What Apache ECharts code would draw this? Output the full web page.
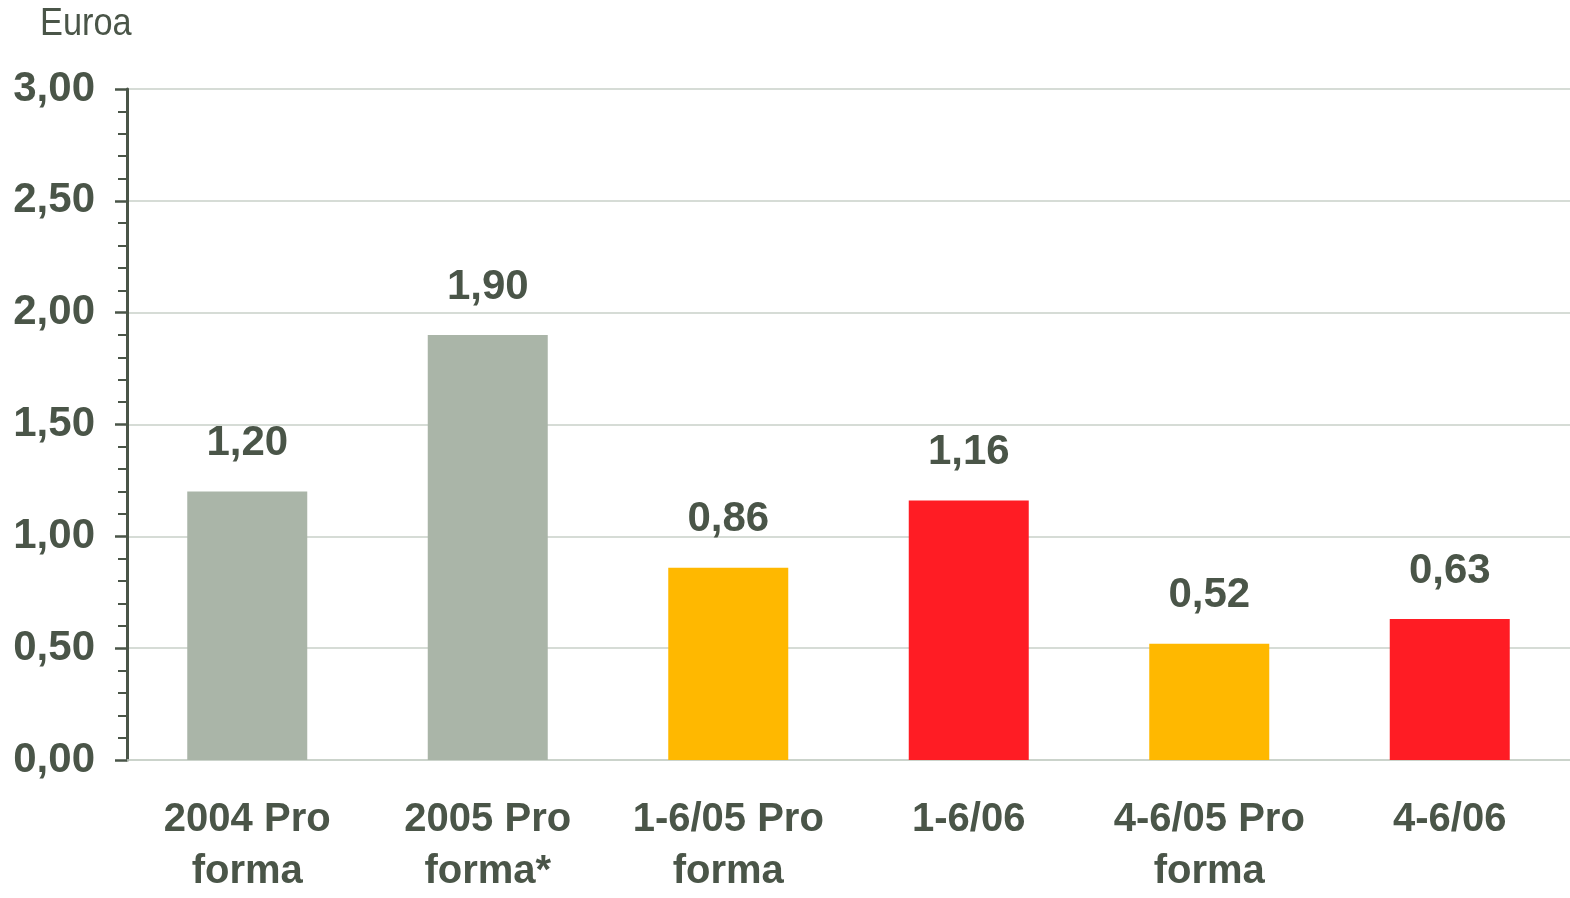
<!DOCTYPE html>
<html><head><meta charset="utf-8">
<script src="https://cdn.jsdelivr.net/npm/echarts@6/dist/echarts.min.js"></script>
<style>html,body{margin:0;padding:0;background:#fff;overflow:hidden}#c{width:1570px;height:898px}</style>
</head><body><div id="c"></div>
<script>
const categories = ['2004 Pro\nforma', '2005 Pro\nforma*', '1-6/05 Pro\nforma', '1-6/06', '4-6/05 Pro\nforma', '4-6/06'];
const values = [1.20, 1.90, 0.86, 1.16, 0.52, 0.63];
const barColors = ['#aab5a8', '#aab5a8', '#ffb800', '#ff1c24', '#ffb800', '#ff1c24'];
const yTicks = { min: 0, max: 3, interval: 0.5 };
const unitLabel = 'Euroa';

const dark = '#4a5548';
const fmt = v => v.toFixed(2).replace('.', ',');
const chart = echarts.init(document.getElementById('c'));
chart.setOption({
  animation: false,
  graphic: [{
    type: 'text', left: 40, top: 5, scaleX: 0.88,
    style: { text: unitLabel, fontFamily: 'Liberation Sans, Arial', fontWeight: 'normal', fontSize: 39, fill: dark }
  }],
  grid: { left: 127, right: -4, top: 89, height: 680 },
  xAxis: {
    type: 'category', data: categories,
    axisLine: { show: true, lineStyle: { color: '#c8d0c8', width: 1.5 } },
    axisTick: { show: false },
    axisLabel: { margin: 34, fontFamily: 'Liberation Sans, Arial', fontWeight: 'bold', fontSize: 40, color: dark, lineHeight: 52, interval: 0 }
  },
  yAxis: {
    type: 'value', min: yTicks.min, max: yTicks.max, interval: yTicks.interval,
    axisLine: { show: true, lineStyle: { color: dark, width: 3 } },
    axisTick: { show: true, length: 12, lineStyle: { color: dark, width: 2.5 } },
    minorTick: { show: true, splitNumber: 5, length: 9, lineStyle: { color: dark, width: 2 } },
    splitLine: { show: true, lineStyle: { color: '#c8d0c8', width: 1.5 } },
    axisLabel: { margin: 32, formatter: fmt, fontFamily: 'Liberation Sans, Arial', fontWeight: 'bold', fontSize: 42, color: dark }
  },
  series: [{
    type: 'bar',
    data: values.map((v, i) => ({ value: v, itemStyle: { color: barColors[i] } })),
    barWidth: 120,
    label: { show: true, position: 'top', distance: 27, formatter: p => fmt(p.value), fontFamily: 'Liberation Sans, Arial', fontWeight: 'bold', fontSize: 42, color: dark }
  }]
});
</script></body></html>
